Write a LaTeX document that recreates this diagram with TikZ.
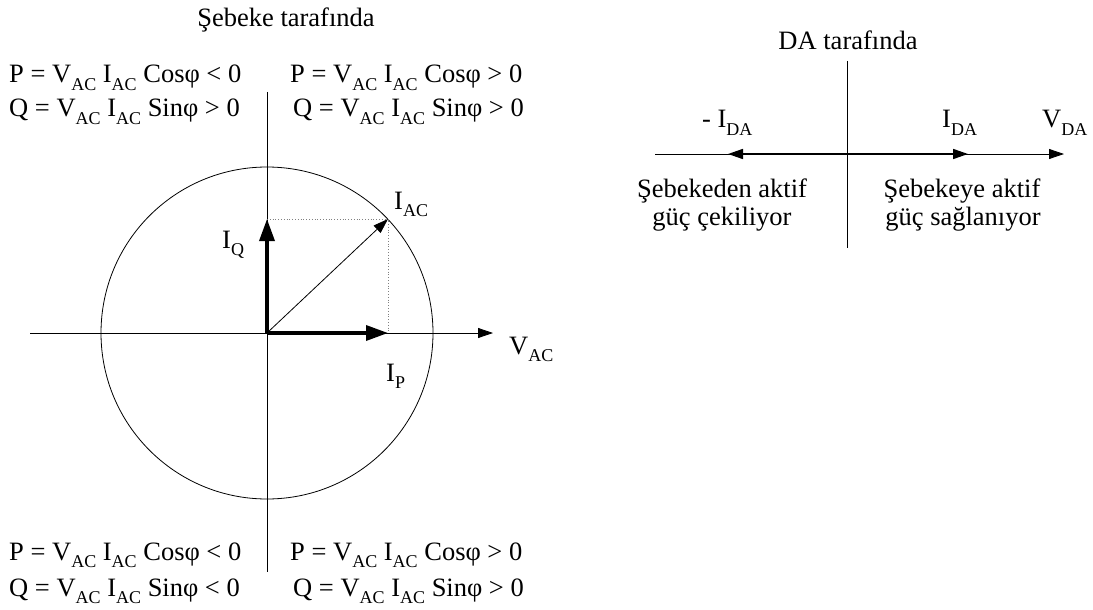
\documentclass[tikz,border=0pt]{standalone}
\usepackage{fontspec}
\setmainfont{Liberation Serif}
\usetikzlibrary{arrows.meta}
\newcommand\sbs[1]{\raisebox{-0.3em}{\fontsize{18}{18}\selectfont #1}}
\tikzset{
  lbl/.style={inner sep=0pt, font=\fontsize{26.5}{30}\selectfont},
  axis/.style={line width=0.8pt},
  thinarr/.style={line width=0.8pt, -{Triangle[length=15pt,width=10pt]}},
  thickarr/.style={line width=3.4pt, -{Triangle[length=22pt,width=15pt]}},
  midarr/.style={line width=1.6pt, -{Triangle[length=15pt,width=10pt]}},
  proj/.style={gray, dotted, line width=0.8pt},
}
\begin{document}
\begin{tikzpicture}[x=1pt,y=-1pt]
\useasboundingbox (0,0) rectangle (1093,610);
% ---- left diagram
\coordinate (O) at (267,333);
\coordinate (L) at (30,333);
\coordinate (R) at (493,333);
\coordinate (T) at (267,92);
\coordinate (B) at (267,572);
\coordinate (A) at (388,219);
\coordinate (Px) at (388,333);
\coordinate (Qy) at (267,219);
\draw[axis] (267,333) circle (166);
\draw[axis] (L) -- (O);
\draw[thinarr] (O) -- (R);
\draw[axis] (T) -- (B);
\draw[proj] (Qy) -- (A) -- (Px);
\draw[thinarr] (O) -- (A);
\draw[thickarr] (O) -- (Px);
\draw[thickarr] (O) -- (Qy);
\node[lbl, anchor=base] (title1) at (286,27) {Şebeke tarafında};
\node[lbl, anchor=base west] (p1) at (9,83) {P = V\sbs{AC} I\sbs{AC} Cosφ < 0};
\node[lbl, anchor=base west] (q1) at (9,117) {Q = V\sbs{AC} I\sbs{AC} Sinφ > 0};
\node[lbl, anchor=base west] (p2) at (290,83) {P = V\sbs{AC} I\sbs{AC} Cosφ > 0};
\node[lbl, anchor=base west] (q2) at (293,117) {Q = V\sbs{AC} I\sbs{AC} Sinφ > 0};
\node[lbl, anchor=base west] (p3) at (9,560) {P = V\sbs{AC} I\sbs{AC} Cosφ < 0};
\node[lbl, anchor=base west] (q3) at (9,596) {Q = V\sbs{AC} I\sbs{AC} Sinφ < 0};
\node[lbl, anchor=base west] (p4) at (290,560) {P = V\sbs{AC} I\sbs{AC} Cosφ > 0};
\node[lbl, anchor=base west] (q4) at (293,596) {Q = V\sbs{AC} I\sbs{AC} Sinφ > 0};
\node[lbl, anchor=base west] (iq) at (222,248) {I\sbs{Q}};
\node[lbl, anchor=base west] (iac) at (394,209) {I\sbs{AC}};
\node[lbl, anchor=base west] (ip) at (386,381) {I\sbs{P}};
\node[lbl, anchor=base west] (vac) at (509,354) {V\sbs{AC}};
% ---- right diagram
\coordinate (dO) at (847,154);
\coordinate (dL) at (655,154);
\coordinate (dR) at (1064,154);
\coordinate (dT) at (847,61);
\coordinate (dB) at (847,248);
\coordinate (dneg) at (728,154);
\coordinate (dpos) at (968,154);
\draw[axis] (dT) -- (dB);
\draw[thinarr] (dL) -- (dR);
\draw[midarr] (dO) -- (dneg);
\draw[midarr] (dO) -- (dpos);
\node[lbl, anchor=base] (title2) at (848,50) {DA tarafında};
\node[lbl, anchor=base west] (nida) at (702,128) {- I\sbs{DA}};
\node[lbl, anchor=base west] (ida) at (942,128) {I\sbs{DA}};
\node[lbl, anchor=base west] (vda) at (1042,128) {V\sbs{DA}};
\node[lbl, anchor=base] (dl1) at (722,197) {Şebekeden aktif};
\node[lbl, anchor=base] (dl2) at (722,225) {güç çekiliyor};
\node[lbl, anchor=base] (dr1) at (962,197) {Şebekeye aktif};
\node[lbl, anchor=base] (dr2) at (963,225) {güç sağlanıyor};
\end{tikzpicture}
\end{document}
